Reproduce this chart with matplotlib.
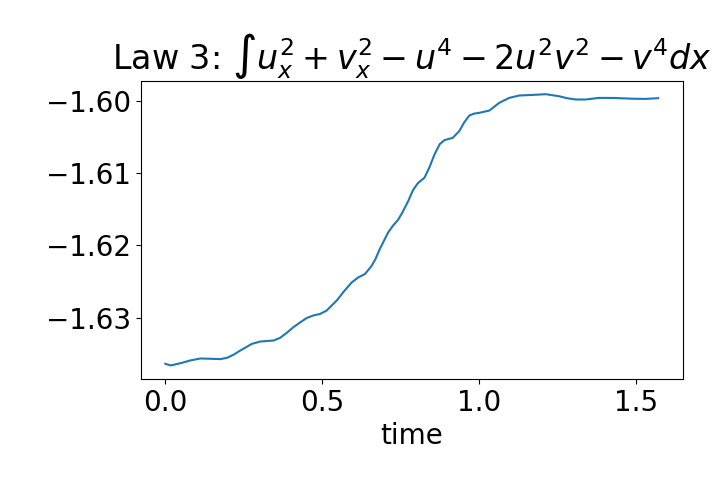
import matplotlib
matplotlib.use("Agg")
from matplotlib import pyplot as plt

# valores (tempo, lei de conservação 3)
tempo = [0.000, 0.017, 0.049, 0.080, 0.112, 0.144, 0.176, 0.197, 0.218, 0.239,
         0.276, 0.303, 0.345, 0.366, 0.387, 0.408, 0.430, 0.451, 0.472, 0.493,
         0.514, 0.546, 0.570, 0.594, 0.615, 0.636, 0.657, 0.670, 0.683, 0.710,
         0.725, 0.742, 0.755, 0.775, 0.789, 0.805, 0.826, 0.842, 0.858, 0.875,
         0.890, 0.916, 0.937, 0.953, 0.969, 0.985, 1.001, 1.033, 1.064, 1.096,
         1.128, 1.170, 1.213, 1.255, 1.280, 1.308, 1.340, 1.382, 1.430, 1.488,
         1.530, 1.5708]
lei3 = [-1.63632, -1.63655, -1.63623, -1.63586, -1.63559, -1.63563, -1.63568, -1.63549, -1.63505, -1.63449,
        -1.63357, -1.63325, -1.63311, -1.63274, -1.63205, -1.63128, -1.63060, -1.63000, -1.62965, -1.62945,
        -1.62898, -1.62761, -1.62630, -1.62510, -1.62440, -1.62395, -1.62285, -1.62185, -1.62055, -1.61822,
        -1.61730, -1.61645, -1.61550, -1.61380, -1.61240, -1.61140, -1.61065, -1.60920, -1.60743, -1.60600,
        -1.60546, -1.60515, -1.60422, -1.60300, -1.60207, -1.60180, -1.60170, -1.60138, -1.60033, -1.59964,
        -1.59931, -1.59923, -1.59913, -1.59941, -1.59968, -1.59986, -1.59986, -1.59964, -1.59965, -1.59975,
        -1.59978, -1.59968]

plt.rcParams['font.size'] = 20

fig = plt.figure(figsize=(7.16, 4.8), dpi=100)
plt.subplots_adjust(left=0.1965, right=0.9536, top=0.832, bottom=0.2104)
plt.plot(tempo, lei3)
plt.title(r"Law 3: $\int u_x^2 + v_x^2 - u^4 - 2u^2v^2 - v^4 dx$")
plt.xlabel("time")

plt.savefig("out.png", dpi=100)
